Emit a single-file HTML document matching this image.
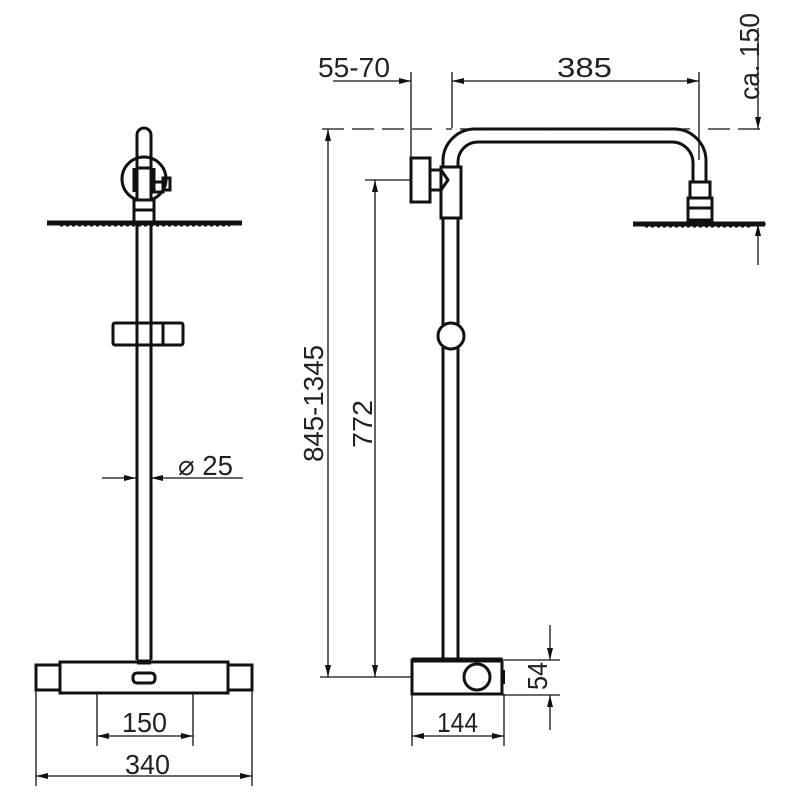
<!DOCTYPE html>
<html><head><meta charset="utf-8"><style>
html,body{margin:0;padding:0;background:#fff}
text{font-family:"Liberation Sans",sans-serif;fill:#222}
</style></head><body>
<svg width="800" height="800" viewBox="0 0 800 800" xmlns="http://www.w3.org/2000/svg">
<defs>
<marker id="a" viewBox="0 0 12 6" refX="12" refY="3" markerWidth="12" markerHeight="6" markerUnits="userSpaceOnUse" orient="auto-start-reverse"><path d="M0,0L12,3L0,6z" fill="#111"/></marker>
</defs>
<g stroke="#111" fill="none">
<!-- LEFT VIEW -->
<g stroke-width="3">
<path d="M137,660V135a7,7 0 0 1 14,0V660"/>
<circle cx="144" cy="179" r="22" fill="#fff"/>
<path d="M137,135V200M151,135V200"/>
<rect x="137" y="168" width="14" height="32" fill="#fff"/>
<path d="M134,168V192M154,168V192"/>
<rect x="154" y="182" width="9" height="10"/>
<rect x="163" y="178" width="7" height="12"/>
<rect x="134" y="200" width="20" height="22" fill="#fff"/>
<path d="M134,210H154"/>
<rect x="113" y="323" width="70" height="22" rx="2" fill="#fff"/>
<path d="M137,323V345M151,323V345M163,323V345"/>
<path d="M60,662H228V693H60Z" fill="#fff"/>
<path d="M36,665H60V690H36Z M228,665H252V690H228Z" fill="#fff"/>
<rect x="133" y="673" width="22" height="10" rx="4"/>
</g>
<path d="M47,223H242" stroke-width="5"/>
<path d="M60,225H230" stroke-width="3" stroke-dasharray="3,3"/>
<path d="M137,662H151" stroke-width="5"/>
<!-- LEFT DIMENSIONS -->
<g stroke-width="1.3">
<path d="M102,478H136" marker-end="url(#a)"/>
<path d="M243,478H151" marker-end="url(#a)"/>
<path d="M97,694V746M193,694V746M36,690V786M252,690V786"/>
<path d="M97,736H193" marker-start="url(#a)" marker-end="url(#a)"/>
<path d="M36,776H252" marker-start="url(#a)" marker-end="url(#a)"/>
</g>
<!-- RIGHT VIEW -->
<g stroke-width="3">
<path d="M443,170V160a32,32 0 0 1 32,-31H675a32,32 0 0 1 31,31V182"/>
<path d="M458,170V162a20,20 0 0 1 20,-20H672a21,21 0 0 1 21,21V182"/>
<rect x="690" y="182" width="20" height="16" fill="#fff"/>
<rect x="688" y="198" width="24" height="22" fill="#fff"/>
<path d="M688,208H712"/>
<path d="M443,218V660M458,218V660"/>
<rect x="441" y="167" width="20" height="51" fill="#fff"/>
<path d="M430,170H441L448,180L441,190H430"/>
<rect x="411" y="158" width="19" height="44" fill="#fff"/>
<circle cx="451" cy="336" r="13" fill="#fff"/>
<rect x="412" y="660" width="90" height="34" fill="#fff"/>
<circle cx="477" cy="677" r="13"/>
</g>
<path d="M633,224H765" stroke-width="5"/>
<path d="M645,226H752" stroke-width="3" stroke-dasharray="3,3"/>
<path d="M412,660H502" stroke-width="5"/>
<path d="M503,670V684" stroke-width="4"/>
<!-- RIGHT DIMENSIONS -->
<g stroke-width="1.3">
<path d="M322,129H432M446,129H452M460,129H690M708,129H766" stroke-dasharray="22,8"/>
<path d="M411,72V157M452,72V128M699,72V160"/>
<path d="M333,81H411" marker-end="url(#a)"/>
<path d="M452,81H699" marker-start="url(#a)" marker-end="url(#a)"/>
<path d="M758,28V129" marker-end="url(#a)"/>
<path d="M758,265V224" marker-end="url(#a)"/>
<path d="M712,224H766"/>
<path d="M328,129V677" marker-start="url(#a)" marker-end="url(#a)"/>
<path d="M365,180H411M320,677H412"/>
<path d="M375,180V677" marker-start="url(#a)" marker-end="url(#a)"/>
<path d="M412,694V746M504,694V746"/>
<path d="M412,736H504" marker-start="url(#a)" marker-end="url(#a)"/>
<path d="M504,660H560M504,695H560"/>
<path d="M550,625V660" marker-end="url(#a)"/>
<path d="M550,730V695" marker-end="url(#a)"/>
</g>
</g>
<!-- LABELS -->
<g font-size="28">
<text x="178" y="475" textLength="55" lengthAdjust="spacingAndGlyphs">⌀ 25</text>
<text x="122" y="732" textLength="45" lengthAdjust="spacingAndGlyphs">150</text>
<text x="125" y="774" textLength="45" lengthAdjust="spacingAndGlyphs">340</text>
<text x="437" y="732" textLength="41" lengthAdjust="spacingAndGlyphs">144</text>
<text x="318" y="77" textLength="72" lengthAdjust="spacingAndGlyphs">55-70</text>
<text x="557" y="77" textLength="55" lengthAdjust="spacingAndGlyphs">385</text>
<text transform="translate(759,100) rotate(-90)" textLength="87" lengthAdjust="spacingAndGlyphs">ca. 150</text>
<text transform="translate(323,462) rotate(-90)" textLength="117" lengthAdjust="spacingAndGlyphs">845-1345</text>
<text transform="translate(372,448) rotate(-90)" textLength="48" lengthAdjust="spacingAndGlyphs">772</text>
<text transform="translate(547,690) rotate(-90)" textLength="28" lengthAdjust="spacingAndGlyphs">54</text>
</g>
</svg>
</body></html>
